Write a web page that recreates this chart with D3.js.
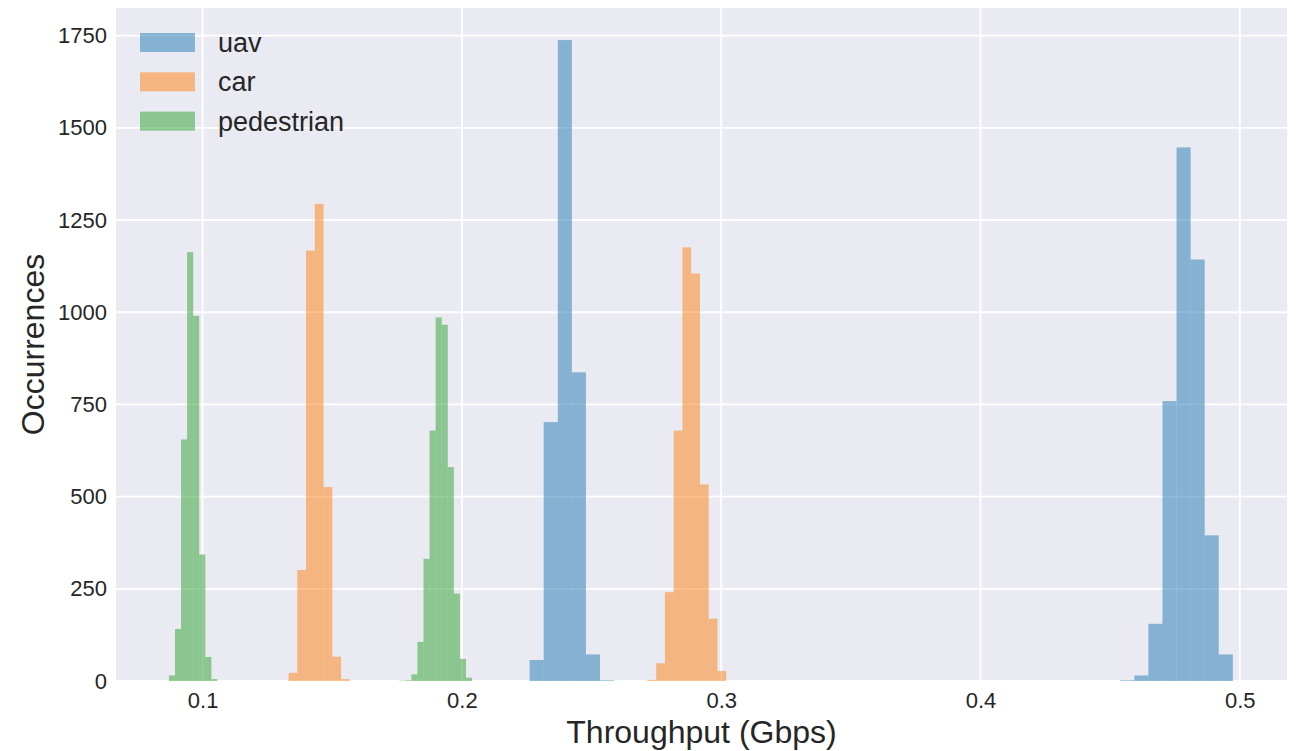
<!DOCTYPE html>
<html>
<head>
<meta charset="utf-8">
<script src="https://cdn.jsdelivr.net/npm/d3@7"></script>
<style>
	body { margin: 0; background: #ffffff; }
	svg { display: block; font-family: "Liberation Sans", Arial, sans-serif; }
</style>
</head>
<body>
<svg id="chart" width="1296" height="751"></svg>
<script>

// series names, in legend order
var seriesNames = ['uav', 'car', 'pedestrian'];
var seriesColors = ['#1f77b4', '#ff7f0e', '#2ca02c'];

// each series is a 50-bin histogram over its own [min, max] range
var uavRange = [0.22613, 0.49730];
var uavCounts = [57, 702, 1738, 837, 72, 2, 0, 0, 0, 0,
	0, 0, 0, 0, 0, 0, 0, 0, 0, 0,
	0, 0, 0, 0, 0, 0, 0, 0, 0, 0,
	0, 0, 0, 0, 0, 0, 0, 0, 0, 0,
	0, 0, 2, 15, 155, 759, 1447, 1143, 395, 72];

var carRange = [0.13314, 0.30193];
var carCounts = [22, 301, 1167, 1294, 526, 66, 5, 0, 0, 0,
	0, 0, 0, 0, 0, 0, 0, 0, 0, 0,
	0, 0, 0, 0, 0, 0, 0, 0, 0, 0,
	0, 0, 0, 0, 0, 0, 0, 0, 0, 0,
	0, 3, 48, 241, 679, 1176, 1105, 533, 169, 27];

var pedRange = [0.08701, 0.20390];
var pedCounts = [15, 141, 655, 1163, 990, 343, 65, 5, 0, 0,
	0, 0, 0, 0, 0, 0, 0, 0, 0, 0,
	0, 0, 0, 0, 0, 0, 0, 0, 0, 0,
	0, 0, 0, 0, 0, 0, 0, 0, 1, 2,
	18, 106, 331, 679, 986, 966, 580, 237, 60, 9];

var xTicks = [0.1, 0.2, 0.3, 0.4, 0.5];
var yTicks = [0, 250, 500, 750, 1000, 1250, 1500, 1750];

var xLabel = 'Throughput (Gbps)';
var yLabel = 'Occurrences';

var margin = {top: 8, right: 9, bottom: 70, left: 116};
var width = 1296 - margin.left - margin.right;
var height = 751 - margin.top - margin.bottom;

var svg = d3.select('#chart');

var x = d3.scaleLinear().domain([0.0666, 0.5182]).range([0, width]);
var y = d3.scaleLinear().domain([0, 1825]).range([height, 0]);

var g = svg.append('g')
	.attr('transform', 'translate(' + margin.left + ',' + margin.top + ')');

g.append('rect')
	.attr('width', width)
	.attr('height', height)
	.attr('fill', '#eaeaf2');

// grid
g.append('g')
	.selectAll('line')
	.data(yTicks)
	.enter()
	.append('line')
	.attr('x1', 0)
	.attr('x2', width)
	.attr('y1', function(d) { return y(d); })
	.attr('y2', function(d) { return y(d); })
	.attr('stroke', '#ffffff')
	.attr('stroke-width', 1.8);

g.append('g')
	.selectAll('line')
	.data(xTicks)
	.enter()
	.append('line')
	.attr('x1', function(d) { return x(d); })
	.attr('x2', function(d) { return x(d); })
	.attr('y1', 0)
	.attr('y2', height)
	.attr('stroke', '#ffffff')
	.attr('stroke-width', 1.8);

// turn range + counts into bins
function makeBins(range, counts) {
	var step = (range[1] - range[0]) / counts.length;
	return counts.map(function(c, i) {
		return {x0: range[0] + i * step, x1: range[0] + (i + 1) * step, n: c};
	});
}

var allBins = [
	makeBins(uavRange, uavCounts),
	makeBins(carRange, carCounts),
	makeBins(pedRange, pedCounts)
];

allBins.forEach(function(bins, s) {
	g.append('g')
		.attr('class', 'hist-' + seriesNames[s])
		.selectAll('rect')
		.data(bins.filter(function(b) { return b.n > 0; }))
		.enter()
		.append('rect')
		.attr('x', function(d) { return x(d.x0); })
		.attr('y', function(d) { return y(d.n); })
		.attr('width', function(d) { return x(d.x1) - x(d.x0); })
		.attr('height', function(d) { return y(0) - y(d.n); })
		.attr('fill', seriesColors[s])
		.attr('fill-opacity', 0.5);
});

// axes
var yAxis = g.append('g')
	.call(d3.axisLeft(y).tickValues(yTicks).tickFormat(d3.format('d')).tickSize(0).tickPadding(9));
var xAxis = g.append('g')
	.attr('transform', 'translate(0,' + height + ')')
	.call(d3.axisBottom(x).tickValues(xTicks).tickFormat(d3.format('.1f')).tickSize(0).tickPadding(11));

[xAxis, yAxis].forEach(function(a) {
	a.select('.domain').remove();
	a.selectAll('text')
		.attr('fill', '#262626')
		.style('font-size', '22px')
		.style('font-family', '"Liberation Sans", Arial, sans-serif');
});

svg.append('text')
	.text(xLabel)
	.attr('x', margin.left + width / 2)
	.attr('y', 743)
	.attr('text-anchor', 'middle')
	.attr('fill', '#262626')
	.style('font-size', '32px');

svg.append('text')
	.text(yLabel)
	.attr('transform', 'translate(44,' + (margin.top + height / 2) + ') rotate(-90)')
	.attr('text-anchor', 'middle')
	.attr('fill', '#262626')
	.style('font-size', '32px');

// legend
var legend = g.append('g')
	.attr('transform', 'translate(24,25)')
	.selectAll('g')
	.data(seriesNames)
	.enter()
	.append('g')
	.attr('transform', function(d, i) { return 'translate(0,' + (i * 39.3) + ')'; });

legend.append('rect')
	.attr('width', 55)
	.attr('height', 19)
	.attr('fill', function(d, i) { return seriesColors[i]; })
	.attr('fill-opacity', 0.5);

legend.append('text')
	.text(function(d) { return d; })
	.attr('x', 78)
	.attr('y', 9.5)
	.attr('dy', '0.35em')
	.attr('fill', '#262626')
	.style('font-size', '27px');

</script>
</body>
</html>
